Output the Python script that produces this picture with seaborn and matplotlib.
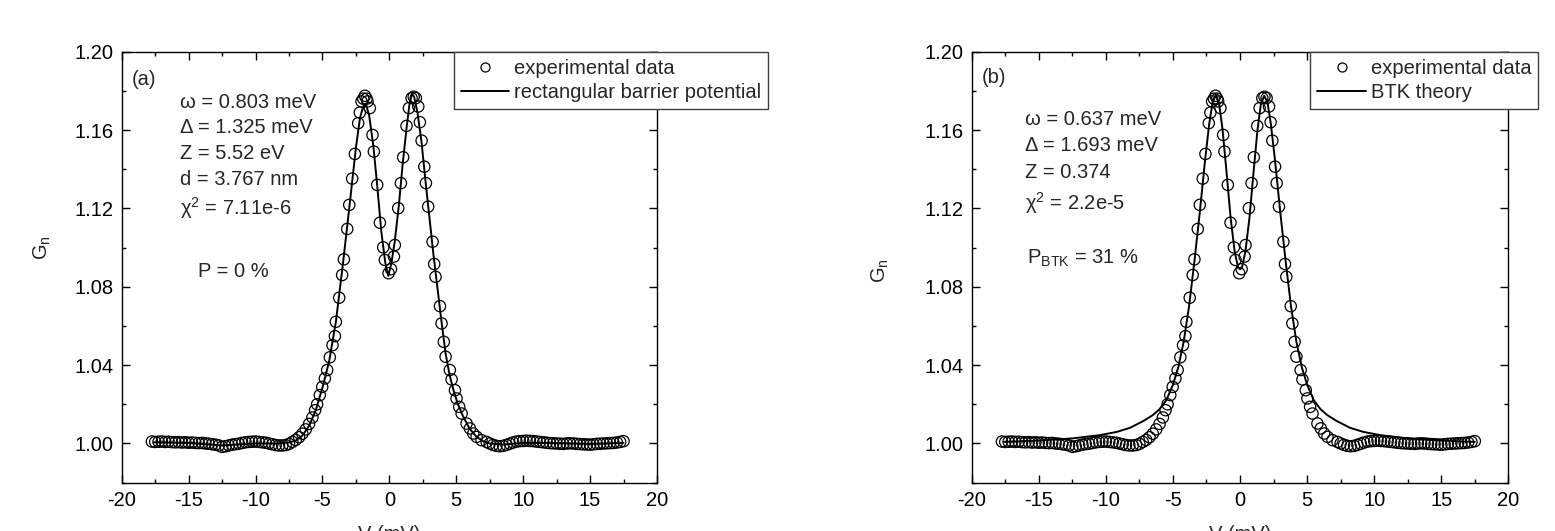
import matplotlib
matplotlib.use("Agg")
import matplotlib.pyplot as plt
from matplotlib.lines import Line2D
from matplotlib.ticker import MultipleLocator, FormatStrFormatter
import seaborn as sns
import pandas as pd

# ---------------- data ----------------
exp_V = [-17.75, -17.50, -17.25, -17.00, -16.75, -16.50, -16.25, -16.00, -15.75, -15.50,
         -15.25, -15.00, -14.75, -14.50, -14.25, -14.00, -13.75, -13.50, -13.25, -13.00,
         -12.75, -12.50, -12.25, -12.00, -11.75, -11.50, -11.25, -11.00, -10.75, -10.50,
         -10.25, -10.00, -9.75, -9.50, -9.25, -9.00, -8.75, -8.50, -8.25, -8.00,
         -7.75, -7.50, -7.25, -7.00, -6.75, -6.50, -6.25, -6.00, -5.75, -5.55,
         -5.40, -5.20, -5.02, -4.82, -4.65, -4.45, -4.25, -4.07, -4.00, -3.75,
         -3.53, -3.40, -3.15, -3.00, -2.78, -2.58, -2.33, -2.21, -2.08, -1.95,
         -1.83, -1.70, -1.63, -1.46, -1.26, -1.16, -0.91, -0.71, -0.46, -0.34,
         -0.06, 0.12, 0.34, 0.41, 0.66, 0.86, 1.03, 1.28, 1.46, 1.66,
         1.82, 1.98, 2.16, 2.28, 2.41, 2.61, 2.73, 2.90, 3.23, 3.35,
         3.45, 3.78, 3.90, 4.07, 4.20, 4.52, 4.65, 4.90, 5.02, 5.22,
         5.40, 5.77, 6.02, 6.27, 6.52, 6.89, 7.27, 7.50, 7.75, 8.00,
         8.25, 8.50, 8.75, 9.00, 9.25, 9.50, 9.75, 10.00, 10.25, 10.50,
         10.75, 11.00, 11.25, 11.50, 11.75, 12.00, 12.25, 12.50, 12.75, 13.00,
         13.25, 13.50, 13.75, 14.00, 14.25, 14.50, 14.75, 15.00, 15.25, 15.50,
         15.75, 16.00, 16.25, 16.50, 16.75, 17.00, 17.25, 17.50]
exp_G = [1.0010, 1.0008, 1.0009, 1.0010, 1.0008, 1.0009, 1.0007, 1.0006, 1.0007, 1.0005,
         1.0006, 1.0004, 1.0005, 1.0003, 1.0002, 1.0003, 1.0000, 0.9999, 0.9996, 0.9994,
         0.9990, 0.9983, 0.9986, 0.9990, 0.9994, 0.9997, 0.9999, 1.0003, 1.0006, 1.0008,
         1.0009, 1.0010, 1.0008, 1.0006, 1.0004, 1.0000, 0.9996, 0.9992, 0.9990, 0.9990,
         0.9992, 0.9998, 1.0008, 1.0018, 1.0032, 1.0050, 1.0072, 1.0100, 1.0133, 1.0170,
         1.0200, 1.0247, 1.0289, 1.0332, 1.0375, 1.0440, 1.0502, 1.0548, 1.0621, 1.0744,
         1.0860, 1.0940, 1.1095, 1.1218, 1.1352, 1.1478, 1.1635, 1.1689, 1.1746, 1.1760,
         1.1775, 1.1760, 1.1746, 1.1712, 1.1575, 1.1490, 1.1320, 1.1127, 1.1001, 1.0937,
         1.0869, 1.0890, 1.0954, 1.1013, 1.1201, 1.1329, 1.1461, 1.1621, 1.1712, 1.1763,
         1.1770, 1.1763, 1.1720, 1.1640, 1.1546, 1.1413, 1.1329, 1.1209, 1.1030, 1.0916,
         1.0851, 1.0701, 1.0613, 1.0519, 1.0443, 1.0375, 1.0327, 1.0272, 1.0230, 1.0187,
         1.0153, 1.0102, 1.0077, 1.0051, 1.0034, 1.0017, 1.0008, 1.0000, 0.9993, 0.9988,
         0.9986, 0.9988, 0.9993, 0.9999, 1.0005, 1.0010, 1.0012, 1.0013, 1.0014, 1.0013,
         1.0012, 1.0010, 1.0008, 1.0006, 1.0004, 1.0002, 1.0001, 1.0000, 0.9999, 0.9998,
         1.0000, 1.0001, 1.0000, 0.9998, 0.9997, 0.9996, 0.9995, 0.9994, 0.9996, 0.9998,
         0.9999, 1.0000, 1.0001, 1.0002, 1.0003, 1.0005, 1.0008, 1.0012]

rect_V = [-17.6, -15.0, -12.5, -10.0, -8.5, -7.5, -7.0, -6.5, -6.0, -5.5,
          -5.0, -4.5, -4.0, -3.5, -3.0, -2.5, -2.2, -2.0, -1.76, -1.5,
          -1.2, -0.9, -0.6, -0.3, -0.08, 0.15, 0.4, 0.7, 1.0, 1.3,
          1.5, 1.68, 1.85, 2.1, 2.4, 2.7, 3.0, 3.3, 3.6, 3.9,
          4.2, 4.5, 4.8, 5.1, 5.5, 6.0, 6.5, 7.0, 7.5, 8.5,
          10.0, 12.5, 15.0, 17.5]
rect_G = [1.0006, 1.0003, 0.9990, 1.0000, 1.0000, 1.0005, 1.0015, 1.0040, 1.0090, 1.0170,
          1.0285, 1.0420, 1.0620, 1.0900, 1.1200, 1.1510, 1.1660, 1.1710, 1.1735, 1.1670,
          1.1520, 1.1310, 1.1080, 1.0920, 1.0855, 1.0920, 1.1030, 1.1210, 1.1430, 1.1620,
          1.1730, 1.1785, 1.1770, 1.1690, 1.1540, 1.1340, 1.1150, 1.0960, 1.0790, 1.0620,
          1.0460, 1.0350, 1.0270, 1.0205, 1.0140, 1.0075, 1.0035, 1.0012, 1.0000, 0.9995,
          1.0003, 1.0002, 0.9998, 1.0003]

btk_V = [-17.6, -15.0, -12.5, -10.5, -9.2, -8.2, -7.2, -6.5, -6.0, -5.5,
         -5.0, -4.6, -4.2, -3.8, -3.4, -3.0, -2.6, -2.3, -2.05, -1.8,
         -1.55, -1.3, -1.0, -0.7, -0.4, -0.15, 0.0, 0.15, 0.4, 0.7,
         1.0, 1.3, 1.55, 1.8, 2.05, 2.3, 2.6, 3.0, 3.4, 3.8,
         4.2, 4.6, 5.0, 5.5, 6.0, 6.5, 7.2, 8.2, 9.2, 10.5,
         12.5, 15.0, 17.5]
btk_G = [1.0008, 1.0015, 1.0026, 1.0042, 1.0059, 1.0080, 1.0115, 1.0145, 1.0175, 1.0220,
         1.0300, 1.0390, 1.0520, 1.0700, 1.0930, 1.1180, 1.1450, 1.1630, 1.1740, 1.1780,
         1.1730, 1.1600, 1.1380, 1.1150, 1.0980, 1.0900, 1.0889, 1.0900, 1.0980, 1.1150,
         1.1380, 1.1600, 1.1730, 1.1775, 1.1740, 1.1630, 1.1450, 1.1180, 1.0930, 1.0700,
         1.0520, 1.0390, 1.0300, 1.0220, 1.0175, 1.0145, 1.0115, 1.0080, 1.0059, 1.0042,
         1.0026, 1.0015, 1.0008]

x_ticks = [-20, -15, -10, -5, 0, 5, 10, 15, 20]
y_ticks = [1.00, 1.04, 1.08, 1.12, 1.16, 1.20]

panel_a_text = ["ω = 0.803 meV", "Δ = 1.325 meV", "Z = 5.52 eV", "d = 3.767 nm",
                "χ$^{2}$ = 7.11e-6"]
panel_b_text = ["ω = 0.637 meV", "Δ = 1.693 meV", "Z = 0.374", "χ$^{2}$ = 2.2e-5"]

# ---------------- style ----------------
sns.set_style("ticks")
plt.rcParams['font.family'] = ['Liberation Sans', 'DejaVu Sans']
plt.rcParams['axes.unicode_minus'] = False
plt.rcParams['mathtext.fontset'] = 'custom'
plt.rcParams['mathtext.rm'] = 'Liberation Sans'
plt.rcParams['mathtext.it'] = 'Liberation Sans:italic'
plt.rcParams['mathtext.bf'] = 'Liberation Sans:bold'
FS = 14.5

fig = plt.figure(figsize=(15.55, 5.31), dpi=100)
ax_a = fig.add_axes([0.0783, 0.091, 0.3442, 0.8117])
ax_b = fig.add_axes([0.6249, 0.091, 0.3451, 0.8117])

df_exp = pd.DataFrame({"V": exp_V, "G": exp_G})
df_rect = pd.DataFrame({"V": rect_V, "G": rect_G})
df_btk = pd.DataFrame({"V": btk_V, "G": btk_G})


def draw_panel(ax, fit_df, fit_label, leg_x, ylab_x, ylab_y):
    sns.lineplot(data=fit_df, x="V", y="G", ax=ax, color="black", linewidth=1.4,
                 estimator=None, sort=False, zorder=2)
    sns.scatterplot(data=df_exp, x="V", y="G", ax=ax, marker="o", s=66,
                    color="black", facecolors="none", edgecolor="black",
                    linewidth=0.9, zorder=3)
    ax.set_xlim(-20, 20)
    ax.set_ylim(0.98, 1.20)
    ax.set_xticks(x_ticks)
    ax.set_yticks(y_ticks)
    ax.xaxis.set_minor_locator(MultipleLocator(2.5))
    ax.yaxis.set_minor_locator(MultipleLocator(0.02))
    ax.yaxis.set_major_formatter(FormatStrFormatter("%.2f"))
    ax.tick_params(which="both", direction="in", top=True, right=True,
                   labelsize=FS, width=1.0, color="black", labelcolor="black")
    ax.tick_params(which="major", length=5.5, pad=6)
    ax.tick_params(which="minor", length=3)
    for sp in ax.spines.values():
        sp.set_linewidth(1.0)
        sp.set_color("black")
    ax.set_xlabel("V (mV)", fontsize=FS)
    ax.xaxis.set_label_coords(0.5, -0.098)
    ax.set_ylabel("G$_{\\mathrm{n}}$", fontsize=FS)
    ax.yaxis.set_label_coords(ylab_x, ylab_y)
    handles = [Line2D([], [], marker="o", ls="none", mfc="none", mec="black",
                      ms=6.5, mew=0.9),
               Line2D([], [], color="black", lw=1.4)]
    leg = ax.legend(handles, ["experimental data", fit_label], loc="upper right",
                    bbox_to_anchor=(leg_x, 1.0), bbox_transform=ax.transAxes,
                    borderaxespad=0, frameon=True, fancybox=False,
                    edgecolor="0.25", framealpha=1, fontsize=FS,
                    handlelength=2.4, handletextpad=0.25, labelspacing=0.25,
                    borderpad=0.35)
    leg.get_frame().set_linewidth(1.0)


draw_panel(ax_a, df_rect, "rectangular barrier potential", 1.208, -0.128, 0.545)
draw_panel(ax_b, df_btk, "BTK theory", 1.056, -0.150, 0.493)

# panel (a) annotations
ax_a.text(0.0187, 0.923, "(a)", transform=ax_a.transAxes, fontsize=FS, va="baseline")
for txt, yy in zip(panel_a_text, [0.869, 0.811, 0.750, 0.691, 0.621]):
    ax_a.text(0.109, yy, txt, transform=ax_a.transAxes, fontsize=FS, va="baseline")
ax_a.text(0.143, 0.478, "P = 0 %", transform=ax_a.transAxes, fontsize=FS, va="baseline")

# panel (b) annotations
ax_b.text(0.0186, 0.927, "(b)", transform=ax_b.transAxes, fontsize=FS, va="baseline")
for txt, yy in zip(panel_b_text, [0.830, 0.770, 0.708, 0.633]):
    ax_b.text(0.0993, yy, txt, transform=ax_b.transAxes, fontsize=FS, va="baseline")
ax_b.text(0.1025, 0.509, "P$_{\\mathrm{BTK}}$ = 31 %", transform=ax_b.transAxes,
          fontsize=FS, va="baseline")

fig.savefig("out.png", dpi=100)
